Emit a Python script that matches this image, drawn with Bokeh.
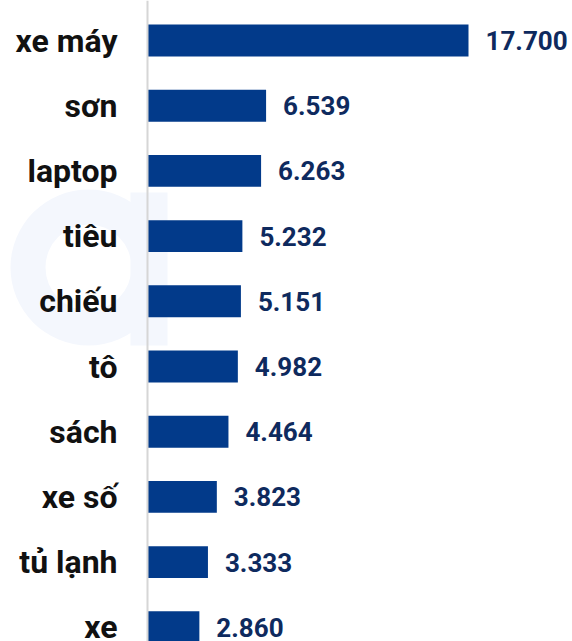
from bokeh.plotting import figure
from bokeh.models import Range1d, Span, ColumnDataSource
from bokeh.core.properties import value
from bokeh.embed import file_html
from bokeh.resources import INLINE

categories = ["xe máy", "sơn", "laptop", "tiêu", "chiếu", "tô", "sách", "xe số", "tủ lạnh", "xe"]
counts = [17700, 6539, 6263, 5232, 5151, 4982, 4464, 3823, 3333, 2860]

ypos = [-i for i in range(len(categories))]
labels = [f"{v:,}".replace(",", ".") for v in counts]

K = 321 / 17700.0  # pixels per unit
ROW = 65.2
x0 = -147 / K
x1 = 425 / K

src = ColumnDataSource(dict(y=ypos, v=counts, cat=categories, lab=labels, zero=[0] * len(counts)))

p = figure(width=572, height=641, output_backend="svg", toolbar_location=None,
           x_range=Range1d(x0, x1), y_range=Range1d(-(641 - 40) / ROW, 40 / ROW),
           x_axis_type=None, y_axis_type=None, min_border=0)
p.outline_line_color = None
p.xgrid.visible = False
p.ygrid.visible = False
p.background_fill_color = "white"

# faint watermark
wm = "#f4f7fd"
p.annulus(x=[(88 - 147) / K], y=[-(267 - 40) / ROW], inner_radius=43, outer_radius=78,
          inner_radius_units="screen", outer_radius_units="screen",
          fill_color=wm, line_color=None)
p.quad(left=[(130 - 147) / K], right=[(167 - 147) / K], top=[-(192 - 40) / ROW],
       bottom=[-(345 - 40) / ROW], fill_color=wm, line_color=None)

p.add_layout(Span(location=0, dimension="height", line_color="#d6d6d6", line_width=2))

p.hbar(y="y", left=0, right="v", height=0.49, source=src,
       fill_color="#023a8a", line_color=None)

p.text(x="v", y="y", text="lab", source=src, x_offset=17,
       text_align="left", text_baseline="middle",
       text_font=value("Roboto"), text_font_style="bold", text_font_size="26px",
       text_color="#0e2a5e")

p.text(x="zero", y="y", text="cat", source=src, x_offset=-30,
       text_align="right", text_baseline="middle",
       text_font=value("Roboto"), text_font_style="bold", text_font_size="32px",
       text_color="#111111")

open("out.html", "w").write(file_html(p, INLINE))
